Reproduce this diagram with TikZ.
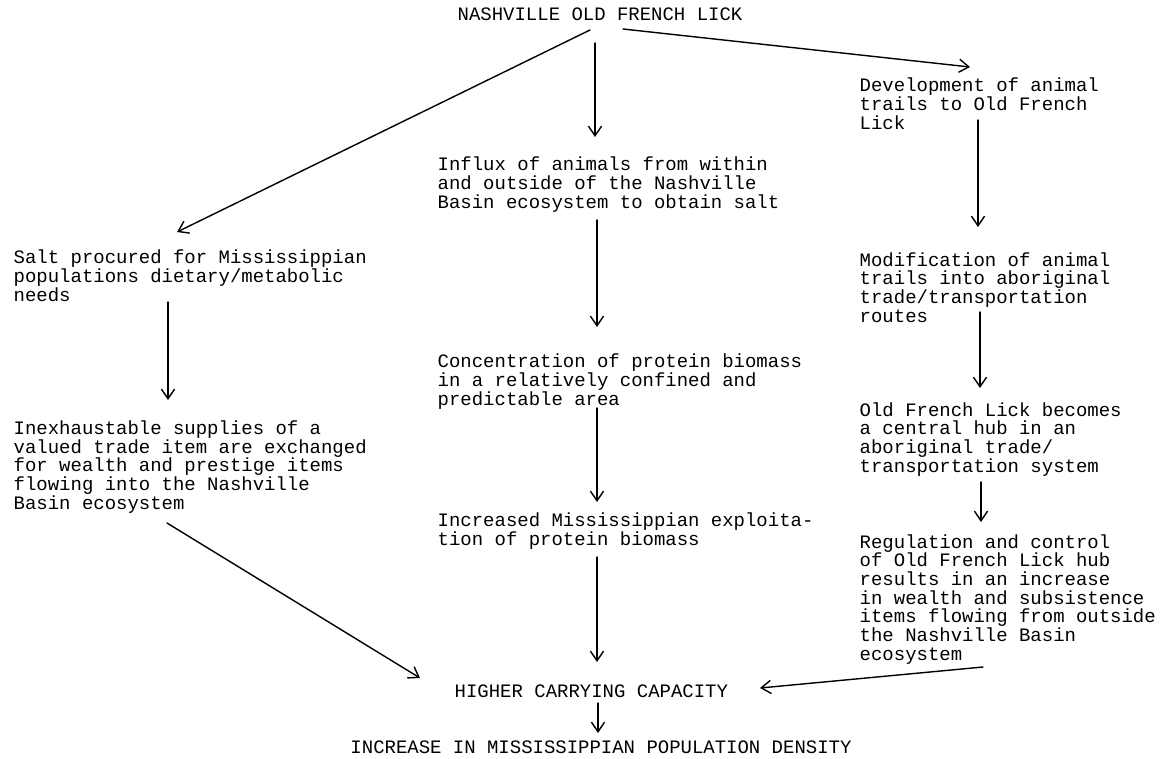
\documentclass[tikz,border=0pt]{standalone}
\usepackage{fontspec}
\newfontfamily\typew{Liberation Mono}
\usetikzlibrary{arrows.meta,calc,positioning}
\tikzset{>={Straight Barb[length=5.5pt,width=7.5pt]},
  txt/.style={font=\typew\fontsize{10.8}{10.6}\selectfont,inner sep=0pt,align=left,anchor=base west}}

\begin{document}
\begin{tikzpicture}[x=0.02cm,y=-0.02cm,line join=round,line cap=round,line width=0.8pt]
\useasboundingbox (0,0) rectangle (1163,758);
\node[txt,anchor=base] (lick) at (600,20) {NASHVILLE OLD FRENCH LICK};
% left column (base = last line)
\node[txt] (salt) at (13,301) {Salt procured for Mississippian\\populations dietary/metabolic\\needs};
\node[txt] (inex) at (13,509) {Inexhaustable supplies of a\\valued trade item are exchanged\\for wealth and prestige items\\flowing into the Nashville\\Basin ecosystem};
% middle column
\node[txt] (influx) at (437,208) {Influx of animals from within\\and outside of the Nashville\\Basin ecosystem to obtain salt};
\node[txt] (conc) at (437,405) {Concentration of protein biomass\\in a relatively confined and\\predictable area};
\node[txt] (incr) at (437,545) {Increased Mississippian exploita-\\tion of protein biomass};
% right column
\node[txt] (devel) at (859,129) {Development of animal\\trails to Old French\\Lick};
\node[txt] (modif) at (859,322) {Modification of animal\\trails into aboriginal\\trade/transportation\\routes};
\node[txt] (hub) at (859,472) {Old French Lick becomes\\a central hub in an\\aboriginal trade/\\transportation system};
\node[txt] (regul) at (859,660) {Regulation and control\\of Old French Lick hub\\results in an increase\\in wealth and subsistence\\items flowing from outside\\the Nashville Basin\\ecosystem};
% bottom
\node[txt] (higher) at (454,697) {HIGHER CARRYING CAPACITY};
\node[txt,anchor=base] (dens) at (601,753) {INCREASE IN MISSISSIPPIAN POPULATION DENSITY};

\draw[->] ($(lick.base)+(-10,10)$) -- ($(salt.base west)+(164,-69)$);
\draw[->] ($(lick.base)+(-5,23)$) -- ($(influx.base west)+(158,-71)$);
\draw[->] ($(lick.base)+(23,9)$) -- ($(devel.base west)+(111,-62)$);
\draw[->] ($(salt.base west)+(155,1)$) -- ($(inex.base west)+(155,-109)$);
\draw[->] ($(inex.base west)+(154,14)$) -- ($(higher.base west)+(-34,-19)$);
\draw[->] ($(influx.base west)+(160,12)$) -- ($(conc.base west)+(160,-78)$);
\draw[->] ($(conc.base west)+(160,3)$) -- ($(incr.base west)+(160,-43)$);
\draw[->] ($(incr.base west)+(160,12)$) -- ($(higher.base west)+(143,-35)$);
\draw[->] ($(devel.base west)+(119,-9)$) -- ($(modif.base west)+(119,-95)$);
\draw[->] ($(modif.base west)+(121,-10)$) -- ($(hub.base west)+(121,-84)$);
\draw[->] ($(hub.base west)+(122,10)$) -- ($(regul.base west)+(122,-138)$);
\draw[->] ($(regul.base west)+(124,7)$) -- ($(higher.base west)+(306,-9)$);
\draw[->] ($(higher.base west)+(144,6)$) -- ($(dens.base)+(-3,-20)$);
\end{tikzpicture}
\end{document}
